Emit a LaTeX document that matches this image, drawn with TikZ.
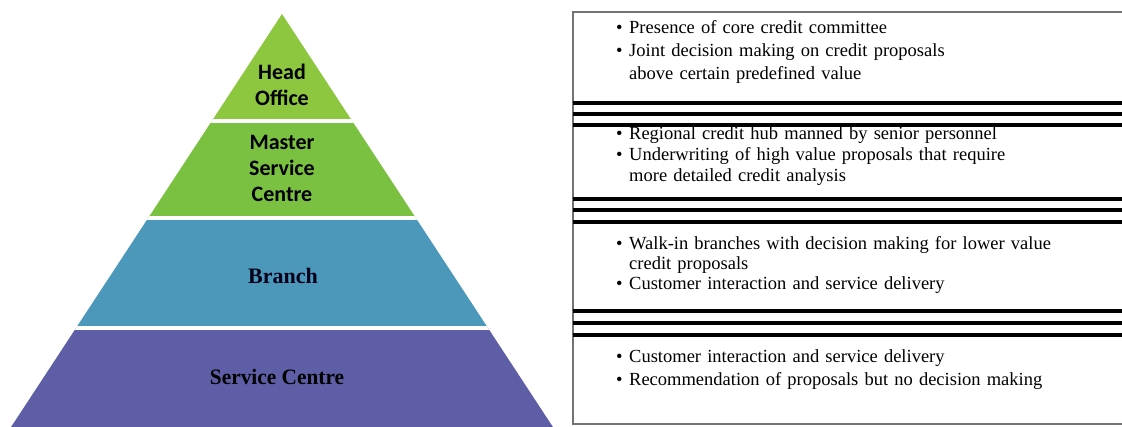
\documentclass[tikz,border=0pt]{standalone}
\usepackage{fontspec}
\usetikzlibrary{calc}
\setmainfont{Liberation Serif}
\newfontfamily\labelsans{Carlito}
\definecolor{headgreen}{RGB}{141,198,63}
\definecolor{mastergreen}{RGB}{122,193,66}
\definecolor{branchblue}{RGB}{75,152,187}
\definecolor{centreviolet}{RGB}{94,94,167}
\newcommand\bitem[1]{\par\noindent\makebox[13pt][l]{\textbullet}\parbox[t]{470pt}{\strut#1\strut}}
\tikzset{
  tiersans/.style={align=center,inner sep=0pt,font=\labelsans\bfseries\fontsize{22}{26}\selectfont},
  tierserif/.style={inner sep=0pt,font=\bfseries\fontsize{22}{26}\selectfont},
  notes/.style={anchor=north west,inner sep=0pt,text width=490pt,align=left,
    execute at begin node={\lineskip=0pt}},
  boxline/.style={draw=black!55,line width=2.5pt},
  bar/.style={line width=4pt}
}
\begin{document}
\begin{tikzpicture}[x=1pt,y=-1pt,line cap=butt]
  \useasboundingbox (0,0) rectangle (1122,426);
  \def\k{0.656}
  \coordinate (apex) at (282,14);
  % pyramid, cut into tiers
  \begin{scope}
    \clip (apex) -- ($(apex)+(-\k*430,430)$) -- ($(apex)+(\k*430,430)$) -- cycle;
    \fill[headgreen] (0,0) rectangle (560,121);
    \fill[mastergreen] (0,121) rectangle (560,218);
    \fill[branchblue] (0,218) rectangle (560,328);
    \fill[centreviolet] (0,328) rectangle (560,440);
    \draw[white,line width=4pt] (0,121) -- (560,121) (0,218) -- (560,218) (0,328) -- (560,328);
  \end{scope}
  \node[tiersans] (head) at (282,85) {Head\\Office};
  \node[tiersans] (master) at (282,168) {Master\\Service\\Centre};
  \node[tierserif,text=black!90!blue] (branch) at (283,276) {Branch};
  \node[tierserif,xscale=0.97] (centre) at (277,377) {Service Centre};
  % boxes on the right
  \draw[boxline] (1130,12) -| (573,424) -- (1130,424);
  \foreach \y in {103,114,125,199,210,222,311,323,335}
    \draw[bar] (573,\y) -- (1130,\y);
  \node[notes,font=\fontsize{18.5}{23}\selectfont] (hoNotes) at (616,10)
    {\bitem{Presence of core credit committee}
     \bitem{Joint decision making on credit proposals\\above certain predefined value}};
  \node[notes,font=\fontsize{18.5}{21}\selectfont] (msNotes) at (616,118)
    {\bitem{Regional credit hub manned by senior personnel}
     \bitem{Underwriting of high value proposals that require\\more detailed credit analysis}};
  \node[notes,font=\fontsize{18.5}{20}\selectfont] (brNotes) at (616,229)
    {\bitem{Walk-in branches with decision making for lower value\\credit proposals}
     \bitem{Customer interaction and service delivery}};
  \node[notes,font=\fontsize{18.5}{23}\selectfont] (scNotes) at (616,339)
    {\bitem{Customer interaction and service delivery}
     \bitem{Recommendation of proposals but no decision making}};
\end{tikzpicture}
\end{document}
